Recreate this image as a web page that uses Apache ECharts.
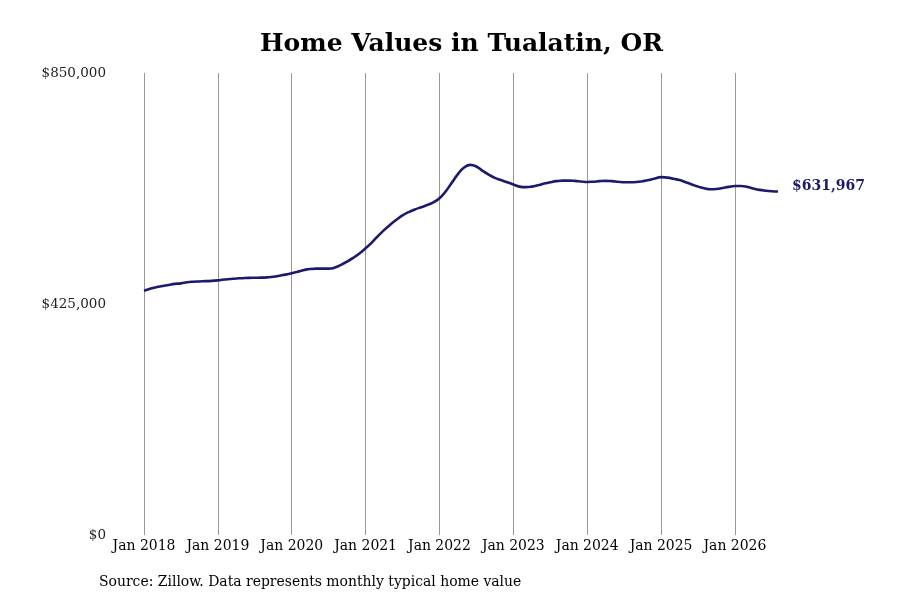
<!DOCTYPE html>
<html>
<head>
<meta charset="utf-8">
<script src="https://cdn.jsdelivr.net/npm/echarts@6/dist/echarts.min.js"></script>
<style>
  html,body{margin:0;padding:0;background:#fff;}
  #main{width:900px;height:600px;}
</style>
</head>
<body>
<div id="main"></div>
<script>
// 月份（2018-01 到 2026-08）
const months = [];
for (let y = 2018; y <= 2026; y++) {
  for (let m = 1; m <= 12; m++) {
    if (y === 2026 && m > 8) break;
    months.push(y + '-' + (m < 10 ? '0' + m : m));
  }
}

// 每年的月度典型房价（美元）
const v2018 = [449500, 453000, 456000, 458000, 460000, 462000, 463000, 465000, 466000, 466500, 467000, 467500];
const v2019 = [468500, 470000, 471000, 472000, 472500, 473000, 473300, 473500, 474000, 475000, 477000, 479000];
const v2020 = [481500, 484500, 487500, 489500, 490000, 490000, 490000, 492000, 497000, 503000, 510000, 518000];
const v2021 = [527500, 538000, 550000, 561000, 571000, 580000, 588000, 594000, 599000, 603000, 607000, 612000];
const v2022 = [619500, 632000, 648000, 664000, 676000, 681000, 678000, 670000, 663000, 657000, 653000, 649000];
const v2023 = [645000, 641000, 640000, 641000, 643500, 646500, 649000, 651000, 652000, 652000, 651500, 650500];
const v2024 = [649500, 650000, 651000, 651500, 651000, 650000, 649000, 649000, 649500, 651000, 653000, 656000];
const v2025 = [658500, 657500, 655500, 653000, 649000, 645000, 641000, 638000, 636000, 636500, 638500, 640500];
const v2026 = [642000, 642000, 640500, 637500, 635000, 633500, 632500, 631967];

const values = [].concat(v2018, v2019, v2020, v2021, v2022, v2023, v2024, v2025, v2026);

// y 轴刻度
const yTicks = [0, 425000, 850000];

const lineColor = '#1b1a6b';
const serif = 'DejaVu Serif';
const serifCond = '"DejaVu Serif Condensed", "DejaVu Serif"';

function money(v) {
  return '$' + Math.round(v).toLocaleString('en-US');
}

let chart = echarts.init(document.getElementById('main'));

let option = {
  backgroundColor: '#fff',
  animation: false,
  grid: {
    left: 144,
    right: 122,
    top: 73,
    bottom: 65
  },
  graphic: [
    {
      type: 'text',
      left: 260,
      top: 32,
      style: {
        text: 'Home Values in Tualatin, OR',
        fontFamily: serif,
        fontWeight: 'bold',
        fontSize: 25,
        fill: '#000'
      }
    },
    {
      type: 'text',
      left: 99,
      top: 574,
      style: {
        text: 'Source: Zillow. Data represents monthly typical home value',
        fontFamily: serifCond,
        fontSize: 15.5,
        fill: '#000'
      }
    }
  ],
  xAxis: {
    type: 'category',
    data: months,
    boundaryGap: false,
    axisLine: { show: false },
    axisTick: { show: false },
    axisLabel: {
      interval: function (i) { return i % 12 === 0; },
      formatter: function (val) { return 'Jan ' + val.slice(0, 4); },
      fontFamily: serifCond,
      fontSize: 15.5,
      color: '#000',
      margin: 3
    },
    splitLine: {
      show: true,
      interval: function (i) { return i % 12 === 0; },
      lineStyle: { color: '#999', width: 1 }
    }
  },
  yAxis: {
    type: 'value',
    min: yTicks[0],
    max: yTicks[yTicks.length - 1],
    interval: yTicks[1] - yTicks[0],
    axisLine: { show: false },
    axisTick: { show: false },
    splitLine: { show: false },
    axisLabel: {
      formatter: money,
      fontFamily: serif,
      fontSize: 13.5,
      color: '#222',
      margin: 38
    }
  },
  series: [{
    type: 'line',
    data: values,
    smooth: true,
    showSymbol: false,
    lineStyle: { color: lineColor, width: 2.6 },
    itemStyle: { color: lineColor },
    endLabel: {
      show: true,
      formatter: function (p) { return money(p.value); },
      fontFamily: serif,
      fontWeight: 'bold',
      fontSize: 14,
      color: lineColor,
      distance: 14,
      offset: [0, -5]
    }
  }]
};

chart.setOption(option);
</script>
</body>
</html>
